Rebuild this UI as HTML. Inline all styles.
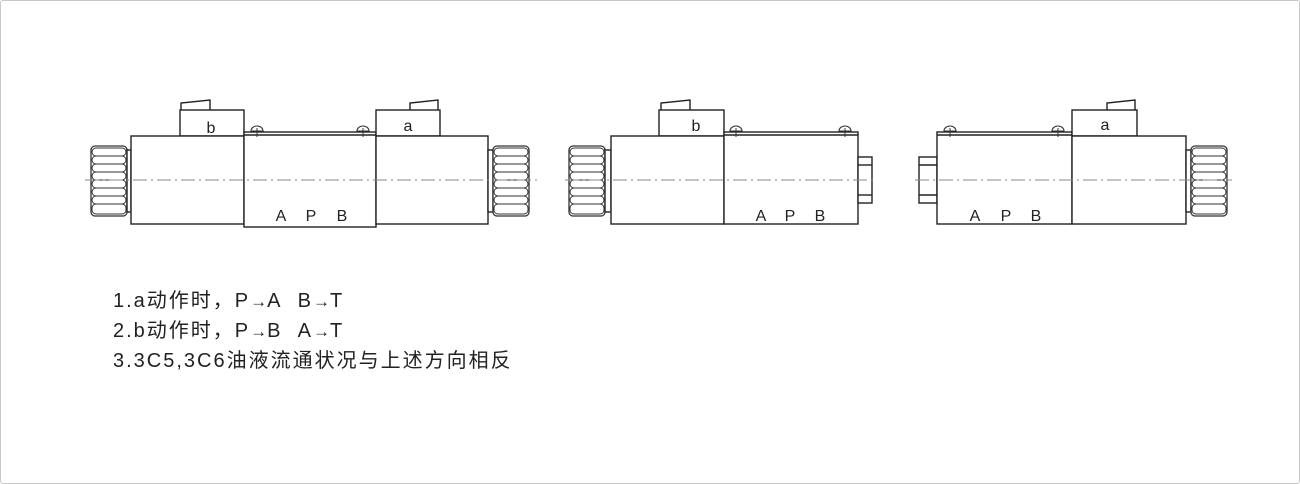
<!DOCTYPE html>
<html><head><meta charset="utf-8"><style>
body{margin:0;background:#fff;}
.f{position:absolute;left:0;top:0;width:1298px;height:482px;border:1px solid #c8c8c8;border-radius:3px;}
.t{position:absolute;left:113px;font:20px/23px "Liberation Sans","Noto Sans CJK SC",sans-serif;letter-spacing:2px;color:#222;white-space:nowrap;}
.ar{font-size:17px;letter-spacing:0;}
</style></head><body>
<div class="f"></div>
<svg width="1300" height="484" style="position:absolute;left:0;top:0" font-family="Liberation Sans, sans-serif">
<defs>
<g id="knob">
<rect x="0" y="0" width="36" height="70" rx="4" fill="#fff" stroke="#333" stroke-width="1.3"/>
<g fill="none" stroke="#333" stroke-width="1">
<rect x="1" y="2" width="34" height="8" rx="4"/>
<rect x="1" y="10" width="34" height="8" rx="4"/>
<rect x="1" y="18" width="34" height="8" rx="4"/>
<rect x="1" y="26" width="34" height="8" rx="4"/>
<rect x="1" y="34" width="34" height="8" rx="4"/>
<rect x="1" y="42" width="34" height="8" rx="4"/>
<rect x="1" y="50" width="34" height="8" rx="4"/>
<rect x="1" y="58" width="34" height="10" rx="4"/>
</g>
</g>
<g id="screw"><path d="M-6,0 A6,5 0 0 1 6,0 Z" fill="#fff" stroke="#333" stroke-width="1.1"/><line x1="0" y1="-3" x2="0" y2="6" stroke="#333"/></g>
</defs>
<g stroke="#222" stroke-width="1.4" fill="#fff">
<use href="#knob" x="91" y="146"/>
<rect x="127" y="150" width="4" height="62"/>
<path d="M181,110 V103 L210,100 V110"/>
<rect x="180" y="110" width="64" height="26"/>
<rect x="131" y="136" width="113" height="88"/>
<rect x="244" y="132" width="132" height="95"/>
<line x1="244" y1="135" x2="376" y2="135"/>
<path d="M410,110 V103 L438,100 V110"/>
<rect x="376" y="110" width="64" height="26"/>
<rect x="376" y="136" width="112" height="88"/>
<rect x="488" y="150" width="5" height="62"/>
<use href="#knob" x="493" y="146"/>
<use href="#knob" x="569" y="146"/>
<rect x="605" y="150" width="6" height="62"/>
<path d="M661,110 V103 L690,100 V110"/>
<rect x="659" y="110" width="65" height="26"/>
<rect x="611" y="136" width="113" height="88"/>
<rect x="724" y="132" width="134" height="92"/>
<line x1="724" y1="135" x2="858" y2="135"/>
<rect x="858" y="157" width="14" height="46"/>
<line x1="858" y1="165" x2="872" y2="165"/><line x1="858" y1="195" x2="872" y2="195"/>
<rect x="919" y="157" width="18" height="46"/>
<line x1="919" y1="165" x2="937" y2="165"/><line x1="919" y1="195" x2="937" y2="195"/>
<rect x="937" y="132" width="135" height="92"/>
<line x1="937" y1="135" x2="1072" y2="135"/>
<path d="M1107,110 V103 L1135,100 V110"/>
<rect x="1072" y="110" width="65" height="26"/>
<rect x="1072" y="136" width="114" height="88"/>
<rect x="1186" y="150" width="5" height="62"/>
<use href="#knob" x="1191" y="146"/>
</g>
<use href="#screw" x="257" y="131"/><use href="#screw" x="363" y="131"/>
<use href="#screw" x="736" y="131"/><use href="#screw" x="845" y="131"/>
<use href="#screw" x="950" y="131"/><use href="#screw" x="1058" y="131"/>
<g stroke="#888" stroke-width="1" stroke-dasharray="14,4,2,4">
<line x1="85" y1="180" x2="537" y2="180"/>
<line x1="565" y1="180" x2="877" y2="180"/>
<line x1="915" y1="180" x2="1232" y2="180"/>
</g>
<g font-size="16" fill="#222" text-anchor="middle">
<text x="211" y="133">b</text><text x="408" y="131">a</text>
<text x="281" y="221">A</text><text x="311" y="221">P</text><text x="342" y="221">B</text>
<text x="696" y="131">b</text><text x="1105" y="130">a</text>
<text x="761" y="221">A</text><text x="790" y="221">P</text><text x="820" y="221">B</text>
<text x="975" y="221">A</text><text x="1006" y="221">P</text><text x="1036" y="221">B</text>
</g>
</svg>
<div class="t" style="top:290px">1.a动作时，P<span class="ar">→</span>A&nbsp;&nbsp;B<span class="ar">→</span>T</div>
<div class="t" style="top:320px">2.b动作时，P<span class="ar">→</span>B&nbsp;&nbsp;A<span class="ar">→</span>T</div>
<div class="t" style="top:350px">3.3C5,3C6油液流通状况与上述方向相反</div>
</body></html>
